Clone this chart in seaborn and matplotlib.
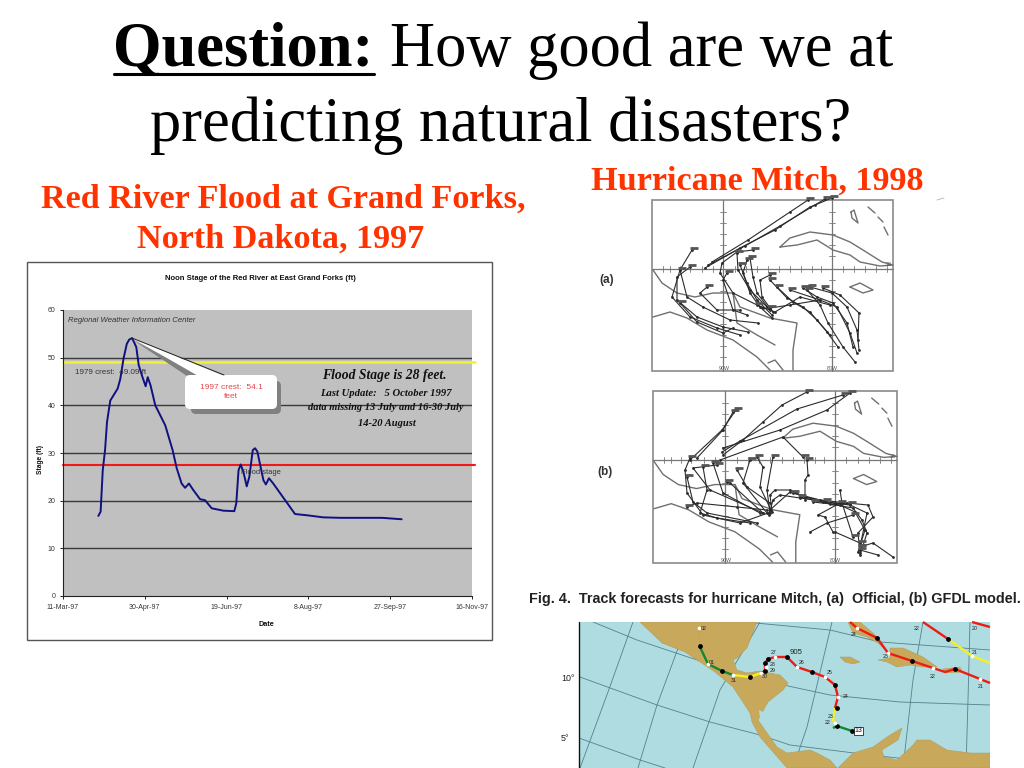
import matplotlib
matplotlib.use("Agg")
import matplotlib.pyplot as plt
from matplotlib.patches import Rectangle, FancyBboxPatch, Polygon
import pandas as pd
import seaborn as sns
import logging
logging.getLogger("matplotlib.font_manager").setLevel(logging.ERROR)

# ---------- Red River stage data ----------
flood_day = [21.6, 23, 24.3, 25.7, 26.9, 28.9, 33.4, 35, 37, 39, 40.5, 42.2, 43.5, 44.8, 46.3, 48.5, 50.5, 51.8, 53.5,
             56.4, 62.5, 67, 69.5, 72.5, 74.6, 77, 79.7, 83.8, 86.8, 90.9, 98, 104.7, 105.9, 107.3, 108.6, 110.3,
             112.3, 113.9, 116, 117.4, 118.8, 122.5, 124, 125.9, 128.5, 141.8, 150, 159, 170, 183.4, 195, 207]
flood_stage = [16.8, 17.7, 26.4, 30.6, 36.5, 41, 43.5, 45.5, 49.8, 52.9, 53.8, 54.1, 53.2, 52.2, 48.4, 46, 44, 45.9, 44.2,
               40, 35.8, 30.6, 26.8, 23.6, 22.7, 23.6, 22.2, 20.3, 20.1, 18.4, 17.9, 17.8, 19.4, 26.4, 27.6, 26,
               23, 25, 30.6, 31, 30.3, 24.3, 23.4, 24.7, 23.6, 17.2, 16.9, 16.5, 16.4, 16.4, 16.4, 16.1]
date_ticks = [0, 50, 100, 150, 200, 250]
date_labels = ["11-Mar-97", "30-Apr-97", "19-Jun-97", "8-Aug-97", "27-Sep-97", "16-Nov-97"]
stage_ticks = [0, 10, 20, 30, 40, 50, 60]
crest_1979 = 49.09
flood_level = 27.5

# ---------- Forecast tracks, panel (a) ----------
tracks_a = [
    [(705,268),(740,248),(775,230),(810,207),(832,198)],
    [(708,265),(745,246),(780,226),(815,205),(825,199)],
    [(712,262),(748,240),(790,212),(808,200)],
    [(855,362),(843,347),(828,323),(820,305),(807,290)],
    [(859,350),(857,330),(847,307),(832,293),(810,287)],
    [(858,340),(859,313),(840,295),(823,288)],
    [(853,347),(847,323),(833,303),(817,297),(803,288)],
    [(838,347),(827,332),(810,312),(793,302),(777,287)],
    [(830,335),(817,320),(803,307),(787,298),(770,280)],
    [(857,353),(850,333),(837,307),(820,300),(790,290)],
    [(772,318),(760,307),(750,293),(743,273),(747,260)],
    [(772,315),(757,300),(747,283),(740,265)],
    [(770,310),(757,293),(753,277),(750,258)],
    [(767,307),(750,290),(738,270),(737,253)],
    [(773,312),(762,297),(760,280),(770,275)],
    [(830,305),(800,297),(775,312),(757,305)],
    [(820,300),(790,305),(770,308)],
    [(758,323),(730,320),(703,307),(687,297),(680,270),(692,250)],
    [(748,332),(723,327),(697,317),(677,300),(677,277),(690,267)],
    [(740,335),(717,328),(690,317),(672,297),(680,270)],
    [(733,328),(723,333),(697,322),(680,303)],
    [(747,315),(733,310),(723,280),(727,273)],
    [(740,310),(717,310),(700,293),(707,287)],
    [(763,308),(733,293),(720,273),(722,263),(737,252),(753,250)],
]

# ---------- Forecast tracks, panel (b) ----------
tracks_b = [
    [(697,458),(723,430),(733,412)],
    [(690,460),(722,430),(736,410)],
    [(723,455),(743,440),(763,422),(782,405),(807,392)],
    [(722,452),(740,441),(797,409),(843,395)],
    [(723,448),(780,430),(827,410),(850,393)],
    [(720,460),(783,437),(803,457)],
    [(770,510),(790,492),(823,502),(850,505),(867,513),(860,547)],
    [(860,553),(858,533),(873,517),(868,505),(847,503),(820,500),(793,493)],
    [(860,555),(867,533),(862,520),(853,508),(830,504),(800,497)],
    [(893,557),(873,543),(860,547)],
    [(858,552),(865,530),(855,512),(840,505),(813,502)],
    [(878,555),(860,550)],
    [(810,532),(827,523),(853,515)],
    [(833,532),(825,517),(818,515),(840,503)],
    [(835,532),(860,543)],
    [(840,490),(842,503),(853,537)],
    [(805,500),(805,480),(808,475),(807,460)],
    [(770,513),(767,490),(773,457)],
    [(771,510),(760,487),(763,467),(757,457)],
    [(770,503),(747,487),(737,470)],
    [(767,513),(743,483),(750,460)],
    [(763,513),(730,483),(727,482)],
    [(768,513),(740,523),(703,515),(687,493),(685,470),(690,458)],
    [(757,523),(707,513),(693,502),(687,477)],
    [(767,510),(737,507),(697,503),(687,507)],
    [(763,513),(710,490),(693,468),(717,465)],
    [(750,523),(717,518),(700,513),(707,490),(703,467)],
    [(760,513),(723,493),(713,463)],
    [(772,512),(770,495),(775,490),(790,490),(805,497),(825,501)],
    [(769,515),(773,500),(780,495),(800,498),(835,503),(850,504)],
]

# ---------- Coast outlines of the track panels (panel (a) positions) ----------
coasts = [
    [(780,247),(790,238),(810,232),(833,235),(850,242),(863,250),(882,262),(893,265),(880,266),(860,262),(850,255),(833,250),(817,240),(797,245),(780,247)],
    [(850,287),(860,283),(873,290),(863,293),(850,287)],
    [(851,212),(854,210),(858,223),(852,218),(851,212)],
    [(868,207),(875,213)], [(878,217),(883,222)], [(884,227),(888,235)],
    [(653,317),(670,312),(687,318),(707,330),(733,340),(757,357),(770,370)],
    [(653,270),(662,283),(677,293),(695,297),(713,293),(733,293),(740,307),(770,318),(797,323),(793,350),(793,370)],
    [(733,293),(737,323),(757,335),(775,345)],
    [(768,363),(775,360),(783,370)],
]
cross_h_ticks = [663, 670, 680, 690, 702, 713, 735, 746, 757, 768, 779, 790, 801, 812, 821, 843, 854, 865, 876, 887]
cross_v_ticks = [212, 223, 234, 245, 256, 280, 291, 302, 313, 324, 335, 346, 357]

# ---------- Colour map at the bottom right ----------
land_central = [(640,622),(662,643),(685,652),(697,660),(715,672),(733,687),(750,713),(752,722),(760,737),(780,760),(787,768),
                (837,768),(830,760),(817,753),(810,750),(787,753),(777,747),(765,730),(758,720),(768,702),(783,690),(788,683),
                (780,675),(760,671),(747,673),(737,670),(733,660),(737,658),(747,648),(753,632),(757,622)]
land_south = [(838,768),(853,753),(873,747),(890,735),(902,728),(898,740),(882,750),(884,757),(897,760),(913,745),(917,740),
              (930,740),(947,750),(970,753),(990,753),(990,768)]
land_cuba = [(848,622),(853,633),(867,637),(878,643),(888,652),(882,643),(873,633),(860,622)]
land_jamaica = [(840,657),(850,657),(860,662),(853,664),(845,662)]
land_hispaniola = [(878,660),(890,658),(890,648),(903,648),(923,657),(937,667),(923,667),(910,665),(897,667),(887,662)]
land_puerto = [(943,669),(960,667),(962,672),(945,673)]
lake = [(759,710),(763,712),(766,722),(760,718)]
grid_lines = [
    [(593,622),(637,640),(688,657),(760,680),(830,695),(900,702),(990,705)],
    [(580,677),(657,705),(710,722),(760,735),(790,745),(870,755),(990,768)],
    [(579,738),(640,760),(665,768)],
    [(745,622),(830,630),(880,642),(990,650)],
    [(633,622),(608,692),(580,768)],
    [(680,643),(657,705),(638,768)],
    [(760,622),(720,690),(693,768)],
    [(832,622),(807,727),(793,768)],
    [(923,622),(913,680),(903,768)],
    [(970,622),(968,700),(966,768)],
]
mitch_green1 = [(852,731),(837,726),(833,728)]
mitch_yellow1 = [(837,726),(833,720),(835,708)]
mitch_red = [(835,708),(838,697),(835,685),(825,677),(812,672),(797,667),(787,657),(775,657),(768,659),(765,663),(765,671),(761,673)]
mitch_yellow2 = [(761,673),(750,677),(733,675)]
mitch_green2 = [(733,675),(722,671),(708,664),(700,647)]
mitch_dotted = [(700,647),(699,628)]
track_red2 = [(850,622),(857,628),(877,638),(888,653),(912,661),(933,668),(945,672),(955,669),(980,679),(990,683)]
track_red3 = [(923,622),(948,639)]
track_yellow3 = [(948,639),(972,656),(990,663)]
track_red4 = [(972,622),(990,627)]
black_dots = [(852,731),(837,726),(837,708),(835,685),(812,672),(787,657),(768,659),(765,663),(765,671),(750,677),(722,671),(700,646),(877,638),(912,661),(955,669),(948,639)]
white_dots = [(835,723),(838,697),(825,677),(797,667),(775,657),(766,667),(761,673),(733,675),(708,664),(699,628),(857,628),(888,653),(933,668),(980,679),(972,656)]
map_labels = [("27",774,653),("26",802,663),("25",830,672),("24",846,697),("23",831,716),("22",828,723),("31",734,681),
              ("30",765,677),("29",773,670),("28",773,664),("01",712,663),("02",704,628),("24",854,634),("23",886,657),
              ("22",933,676),("21",981,686),("22",917,628),("21",975,652),("20",975,628)]

RED_TITLE = "#FF3300"
SERIF = "Liberation Serif"
SANS = "Liberation Sans"

sns.set_theme(style="white")
plt.rcParams["font.family"] = [SANS, "DejaVu Sans"]

W, H = 1024, 768
fig = plt.figure(figsize=(W / 100, H / 100), dpi=100, facecolor="white")

# frame of the embedded chart
fig.add_artist(Rectangle((27 / W, 1 - 640 / H), 465 / W, 378 / H, transform=fig.transFigure,
                         facecolor="white", edgecolor="#555555", lw=1.0, zorder=0))

# ---------- The chart ----------
ax = fig.add_axes([63 / W, 1 - 596 / H, 409 / W, 286 / H], zorder=1)
ax.set_facecolor("#C0C0C0")
df = pd.DataFrame({"day": flood_day, "stage": flood_stage})
for y in stage_ticks[1:-1]:
    ax.axhline(y, color="#3a3a3a", lw=1.0, zorder=1)
ax.plot([0, 252], [crest_1979, crest_1979], color="#F2F230", lw=1.8, zorder=2, clip_on=False)
ax.plot([0, 252], [flood_level, flood_level], color="#F01818", lw=1.5, zorder=2, clip_on=False)
sns.lineplot(data=df, x="day", y="stage", sort=False, estimator=None, color="#101080", lw=1.4, ax=ax, zorder=3)
ax.set_xlim(0, 250)
ax.set_ylim(0, 60)
ax.set_xticks(date_ticks)
ax.set_xticklabels(date_labels)
ax.set_yticks(stage_ticks)
ax.tick_params(axis="both", labelsize=5.0, length=2.5, width=0.7, color="#222222", labelcolor="#333333", pad=3,
               bottom=True, left=True)
ax.set_xlabel("")
ax.set_ylabel("")
for s in ["top", "right"]:
    ax.spines[s].set_visible(False)
for s in ["left", "bottom"]:
    ax.spines[s].set_color("#222222")
    ax.spines[s].set_linewidth(0.8)

# ---------- Pixel-coordinate overlay ----------
ov = fig.add_axes([0, 0, 1, 1], zorder=2)
ov.set_xlim(0, W)
ov.set_ylim(H, 0)
ov.axis("off")
ov.patch.set_alpha(0)

# slide heading
ov.text(113, 66, "Question:", fontsize=45, fontweight="bold", family=SERIF, color="black", va="baseline", ha="left")
ov.text(390, 66, "How good are we at", fontsize=45, family=SERIF, color="black", va="baseline", ha="left")
ov.plot([114, 374], [74, 74], color="black", lw=2.2)
ov.text(501, 141, "predicting natural disasters?", fontsize=45, family=SERIF, color="black", va="baseline", ha="center")
ov.text(283, 208, "Red River Flood at Grand Forks,", fontsize=24.6, fontweight="bold", family=SERIF, color=RED_TITLE, va="baseline", ha="center")
ov.text(281, 248, "North Dakota, 1997", fontsize=24.6, fontweight="bold", family=SERIF, color=RED_TITLE, va="baseline", ha="center")
ov.text(757, 190, "Hurricane Mitch, 1998", fontsize=24.6, fontweight="bold", family=SERIF, color=RED_TITLE, va="baseline", ha="center")
ov.plot([937, 944], [200, 198], color="#BBBBBB", lw=0.7)

# chart texts
ov.text(260, 279, "Noon Stage of the Red River at East Grand Forks (ft)", fontsize=5.5, fontweight="bold", color="#111111", ha="center", va="center")
ov.text(266, 624, "Date", fontsize=5.2, fontweight="bold", color="#111111", ha="center", va="center")
ov.text(41, 460, "Stage (ft)", fontsize=4.8, fontweight="bold", color="#111111", ha="center", va="center", rotation=90)
ov.text(68, 321, "Regional Weather Information Center", fontsize=5.6, style="italic", color="#333333", ha="left", va="center")
ov.text(75, 372, "1979 crest:  49.09 ft", fontsize=5.8, color="#333333", ha="left", va="center")
ov.text(261, 473, "Flood stage", fontsize=5.4, color="#333333", ha="center", va="center")
ov.text(384.5, 376, "Flood Stage is 28 feet.", fontsize=9.8, fontweight="bold", style="italic", family=SERIF, color="#111111", ha="center", va="center")
ov.text(386, 393, "Last Update:   5 October 1997", fontsize=7.7, fontweight="bold", style="italic", family=SERIF, color="#111111", ha="center", va="center")
ov.text(385.5, 408, "data missing 13 July and 16-30 July", fontsize=7.5, fontweight="bold", style="italic", family=SERIF, color="#111111", ha="center", va="center")
ov.text(387, 423, "14-20 August", fontsize=7.6, fontweight="bold", style="italic", family=SERIF, color="#111111", ha="center", va="center")

# callout with shadow
ov.add_patch(Polygon([(133, 340), (190, 378), (202, 376)], closed=True, facecolor="#808080", edgecolor="none", zorder=4))
ov.add_patch(FancyBboxPatch((191, 381), 90, 33, boxstyle="round,pad=0,rounding_size=5", facecolor="#808080", edgecolor="none", zorder=4))
ov.add_patch(FancyBboxPatch((185, 375), 92, 34, boxstyle="round,pad=0,rounding_size=5", facecolor="white", edgecolor="none", zorder=5))
ov.add_patch(Polygon([(132, 338), (200, 377), (224, 376)], closed=True, facecolor="white", edgecolor="none", zorder=5))
ov.plot([132, 224], [338, 375], color="#222222", lw=0.7, zorder=6)
ov.text(231, 392, "1997 crest:  54.1\nfeet", fontsize=6.0, color="#E04A50", ha="center", va="center", linespacing=1.25, zorder=7)


def draw_panel(tracks, left, top, sx, sy, v_lines):
    """Draw one forecast panel; outlines are stored at panel (a) positions and rescaled here."""
    X = lambda v: left + (v - 652) * sx
    Y = lambda v: top + (v - 200) * sy
    ov.add_patch(Rectangle((left, top), 241 * sx, 171 * sy, facecolor="white", edgecolor="#8a8a8a", lw=1.2, zorder=2))
    ov.plot([X(652), X(893)], [Y(269), Y(269)], color="#777777", lw=0.9, zorder=3)
    for vx in v_lines:
        ov.plot([X(vx), X(vx)], [Y(200), Y(371)], color="#777777", lw=0.9, zorder=3)
        for ty in cross_v_ticks:
            ov.plot([X(vx) - 3, X(vx) + 3], [Y(ty), Y(ty)], color="#777777", lw=0.6, zorder=3)
    for tx in cross_h_ticks:
        ov.plot([X(tx), X(tx)], [Y(266), Y(272)], color="#777777", lw=0.6, zorder=3)
    for c in coasts:
        xs, ys = zip(*c)
        ov.plot([X(x) for x in xs], [Y(y) for y in ys], color="#707070", lw=1.0, zorder=3)
    for tr in tracks:
        xs, ys = zip(*tr)
        sns.lineplot(x=list(xs), y=list(ys), sort=False, estimator=None, ax=ov, color="#2b2b2b", lw=0.8,
                     marker="o", ms=2.0, mew=0, zorder=4, legend=False)
        ov.plot([xs[-1] + 2], [ys[-1] - 2], marker="_", ms=6, mew=2.0, color="#555555", zorder=5, ls="none")
    ov.text(X(724), Y(368), "90W", fontsize=3.8, color="#555555", ha="center", va="center", zorder=5)
    ov.text(X(832), Y(368), "80W", fontsize=3.8, color="#555555", ha="center", va="center", zorder=5)
    ov.text(X(889), Y(265), "20", fontsize=3.8, color="#555555", ha="center", va="center", zorder=5)


draw_panel(tracks_a, 652, 200, 1.0, 1.0, (723, 832))
draw_panel(tracks_b, 653, 391, 1.0125, 1.006, (723, 832))
ov.set_xlim(0, W)
ov.set_ylim(H, 0)
ov.set_xlabel("")
ov.set_ylabel("")
ov.text(607, 280, "(a)", fontsize=8.5, fontweight="bold", color="#333333", ha="center", va="center")
ov.text(605, 472, "(b)", fontsize=8.5, fontweight="bold", color="#333333", ha="center", va="center")
ov.text(775, 599, "Fig. 4.  Track forecasts for hurricane Mitch, (a)  Official, (b) GFDL model.", fontsize=10.37,
        fontweight="bold", color="#222222", ha="center", va="center")

# ---------- Colour map ----------
SEA, LAND, GRID = "#AEDCE0", "#C8A95C", "#55808F"
clip = Rectangle((579, 622), 411, 146, transform=ov.transData)
ov.add_patch(Rectangle((579, 622), 411, 146, facecolor=SEA, edgecolor="none", zorder=2))
for g in grid_lines:
    xs, ys = zip(*g)
    l, = ov.plot(xs, ys, color=GRID, lw=0.6, zorder=2.5)
    l.set_clip_path(clip)
for poly in (land_central, land_south, land_cuba, land_jamaica, land_hispaniola, land_puerto):
    p = Polygon(poly, closed=True, facecolor=LAND, edgecolor="#B09550", lw=0.3, zorder=3)
    ov.add_patch(p)
    p.set_clip_path(clip)
ov.add_patch(Polygon(lake, closed=True, facecolor=SEA, edgecolor="none", zorder=3.1))
ov.plot([579, 579], [622, 768], color="#111111", lw=1.0, zorder=4)
for seg, col in [(mitch_green1, "#118833"), (mitch_yellow1, "#F5F020"), (mitch_red, "#EE1C14"), (mitch_yellow2, "#F5F020"),
                 (mitch_green2, "#118833"), (track_red2, "#EE1C14"), (track_red3, "#EE1C14"), (track_yellow3, "#F5F020"),
                 (track_red4, "#EE1C14")]:
    xs, ys = zip(*seg)
    ov.plot(xs, ys, color=col, lw=1.7, zorder=5, solid_capstyle="butt")
xs, ys = zip(*mitch_dotted)
ov.plot(xs, ys, color="#999999", lw=0.7, ls=":", zorder=5)
xs, ys = zip(*black_dots)
ov.scatter(xs, ys, s=12, color="black", zorder=6, linewidths=0)
xs, ys = zip(*white_dots)
ov.scatter(xs, ys, s=7, color="white", zorder=6, linewidths=0)
for s, x, y in map_labels:
    ov.text(x, y, s, fontsize=3.8, color="#222222", ha="center", va="center", zorder=7)
ov.text(796, 653, "905", fontsize=5.6, color="#222222", ha="center", va="center", zorder=7)
ov.text(858.5, 731, "13", fontsize=5, color="#111111", ha="center", va="center", zorder=7,
        bbox=dict(boxstyle="square,pad=0.12", facecolor="white", edgecolor="black", lw=0.5))
ov.text(568, 678.5, "10°", fontsize=6.4, color="#222222", ha="center", va="center")
ov.text(565, 738.5, "5°", fontsize=6.4, color="#222222", ha="center", va="center")
ov.set_xlim(0, W)
ov.set_ylim(H, 0)

fig.savefig("out.png", dpi=100, facecolor="white")
